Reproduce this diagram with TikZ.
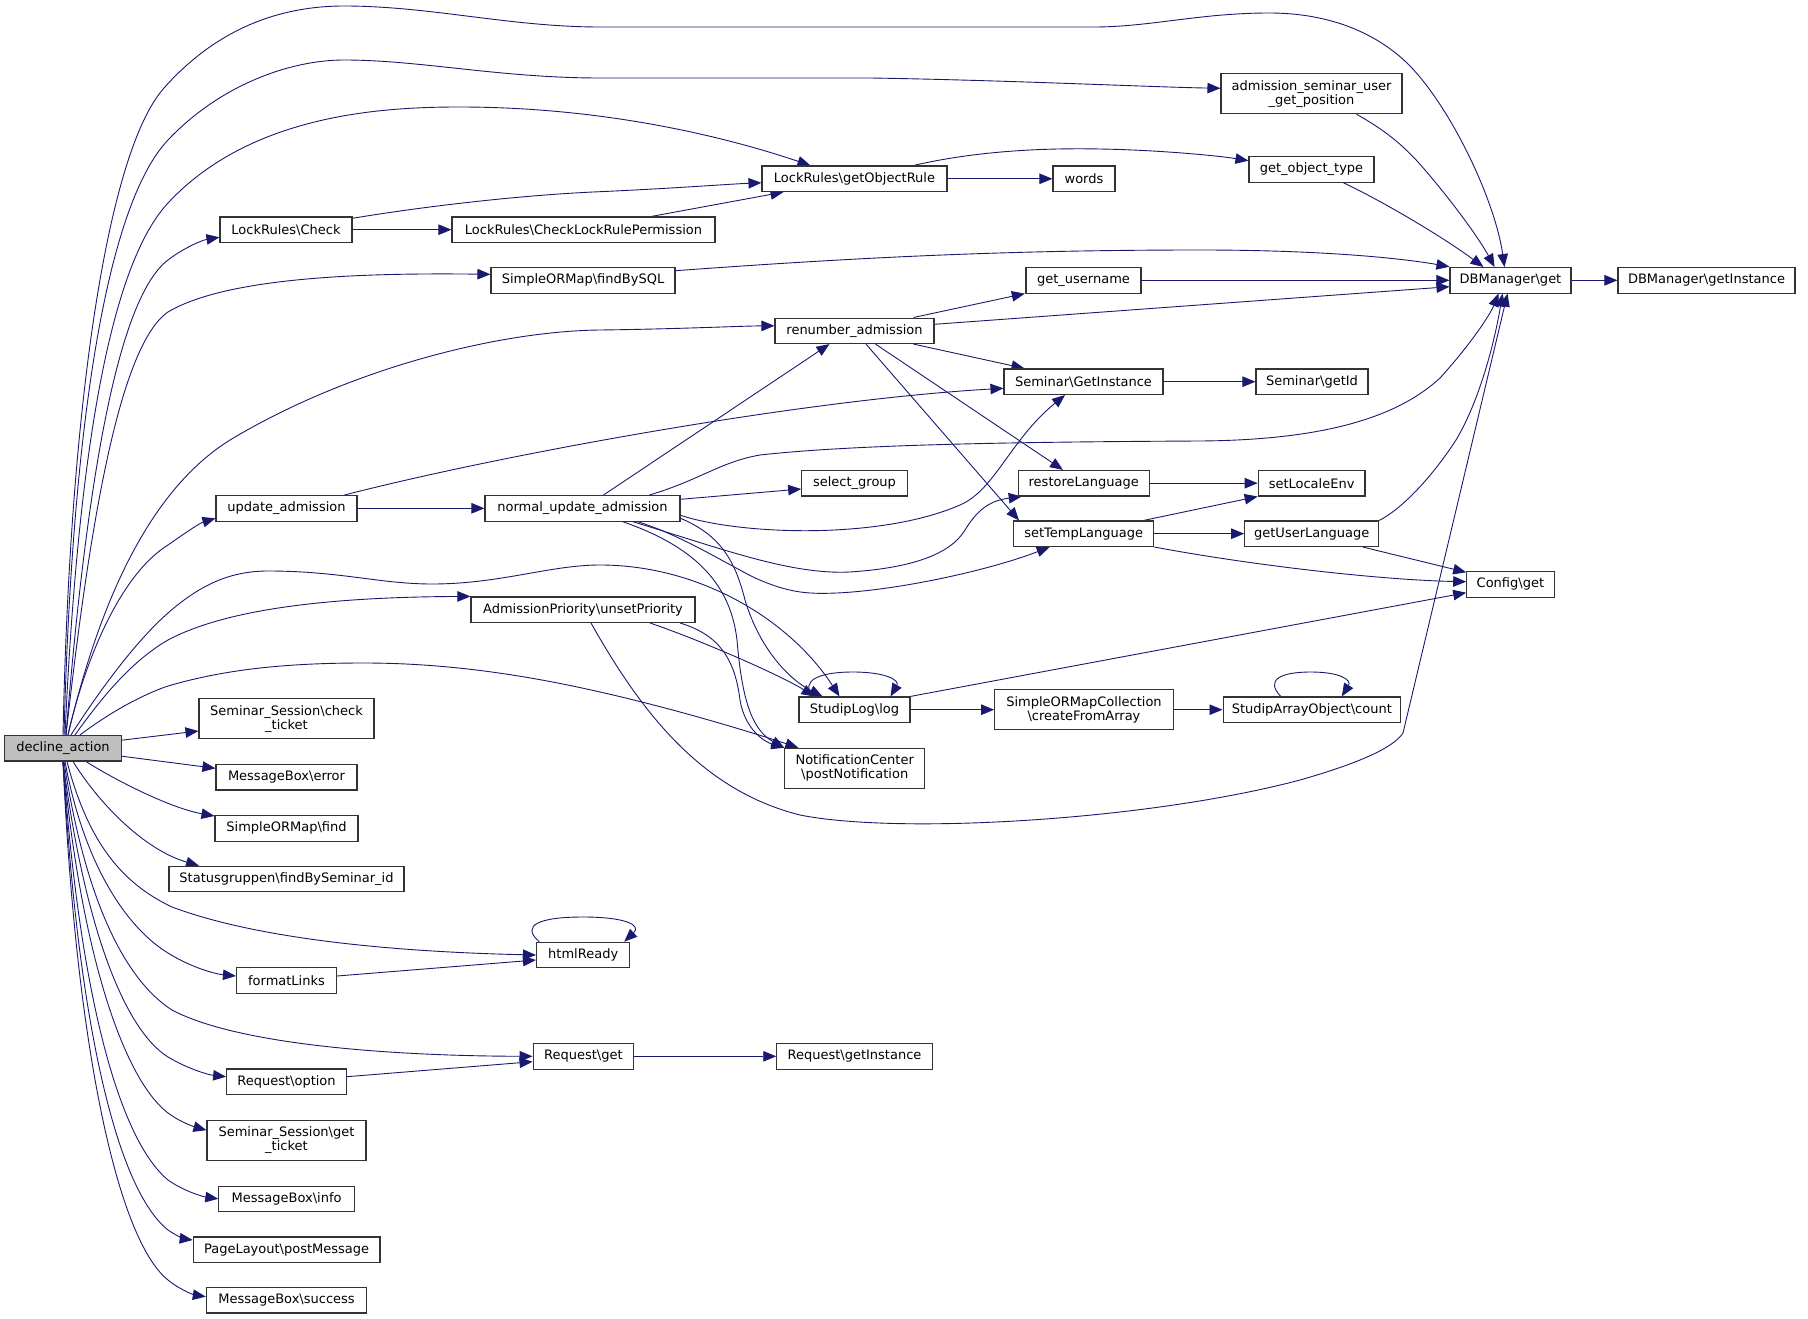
\documentclass[tikz,border=0pt]{standalone}
\usepackage{fontspec}
\setmainfont{DejaVu Sans}
\usetikzlibrary{arrows.meta}
\definecolor{edgec}{HTML}{191970}
\definecolor{boxline}{HTML}{333333}
\definecolor{rootfill}{HTML}{BFBFBF}
\pgfdeclarelayer{background}
\pgfsetlayers{background,main}
\tikzset{
 fbox/.style={draw=boxline, line width=1.1pt, fill=white, minimum height=25.5pt, inner sep=0pt, font=\fontsize{13}{14}\selectfont, align=center},
 fbox2/.style={fbox, minimum height=40pt},
 link/.style={draw=edgec, line width=0.9pt, -{Triangle[length=13pt,width=10.5pt]}},
}
\begin{document}
\begin{tikzpicture}[x=1pt,y=-1pt]
\useasboundingbox (0,0) rectangle (1808,1319);
% nodes
\node[fbox, fill=rootfill, minimum width=116.4pt] (D) at (63,748.2) {decline\_action};
\node[fbox, minimum width=132pt] (LRC) at (286,229.7) {LockRules\textbackslash Check};
\node[fbox, minimum width=263pt] (CLRP) at (583.5,229.7) {LockRules\textbackslash CheckLockRulePermission};
\node[fbox, minimum width=184pt] (FBS) at (583,280.3) {SimpleORMap\textbackslash findBySQL};
\node[fbox, minimum width=185pt] (GOR) at (854.5,178.8) {LockRules\textbackslash getObjectRule};
\node[fbox, minimum width=62pt] (W) at (1084,178.8) {words};
\node[fbox, minimum width=115pt] (GU) at (1083.5,280.3) {get\_username};
\node[fbox, minimum width=159pt] (RA) at (854.5,330.8) {renumber\_admission};
\node[fbox, minimum width=159pt] (SGI) at (1083.5,381.7) {Seminar\textbackslash GetInstance};
\node[fbox2, minimum width=181pt] (ASUGP) at (1311.5,93.7) {admission\_seminar\_user\\\_get\_position};
\node[fbox, minimum width=125pt] (GOT) at (1311.5,169.5) {get\_object\_type};
\node[fbox, minimum width=121pt] (DBget) at (1510.5,280.3) {DBManager\textbackslash get};
\node[fbox, minimum width=177pt] (DBGI) at (1706.5,280.3) {DBManager\textbackslash getInstance};
\node[fbox, minimum width=112pt] (SGID) at (1312,381.7) {Seminar\textbackslash getId};
\node[fbox, minimum width=141pt] (UA) at (286.5,508.3) {update\_admission};
\node[fbox, minimum width=195pt] (N) at (582.5,508.3) {normal\_update\_admission};
\node[fbox, minimum width=224pt] (AP) at (583,609.7) {AdmissionPriority\textbackslash unsetPriority};
\node[fbox2, minimum width=175pt] (SSC) at (286.5,718.8) {Seminar\_Session\textbackslash check\\\_ticket};
\node[fbox, minimum width=141pt] (MBE) at (286.5,777.2) {MessageBox\textbackslash error};
\node[fbox, minimum width=143pt] (SOF) at (286.5,828.3) {SimpleORMap\textbackslash find};
\node[fbox, minimum width=235pt] (SFB) at (286.5,879) {Statusgruppen\textbackslash findBySeminar\_id};
\node[fbox, minimum width=105.6pt] (SG) at (854.5,483.2) {select\_group};
\node[fbox, minimum width=131pt] (RL) at (1083.7,483.2) {restoreLanguage};
\node[fbox, minimum width=140pt] (STL) at (1083.7,533.7) {setTempLanguage};
\node[fbox, minimum width=111pt] (SL) at (854.5,709.7) {StudipLog\textbackslash log};
\node[fbox2, minimum width=178.7pt] (SOC) at (1084,709.7) {SimpleORMapCollection\\\textbackslash createFromArray};
\node[fbox2, minimum width=139.7pt] (NC) at (854.7,768.3) {NotificationCenter\\\textbackslash postNotification};
\node[fbox, minimum width=106.8pt] (SLE) at (1311.6,483.2) {setLocaleEnv};
\node[fbox, minimum width=134pt] (GUL) at (1311.7,533.7) {getUserLanguage};
\node[fbox, minimum width=87.3pt] (CG) at (1510.4,584.3) {Config\textbackslash get};
\node[fbox, minimum width=177.5pt] (SAO) at (1311.8,709.7) {StudipArrayObject\textbackslash count};
\node[fbox, minimum width=93.4pt] (HR) at (583.2,955) {htmlReady};
\node[fbox, minimum width=100pt] (FL) at (286.5,980.3) {formatLinks};
\node[fbox, minimum width=100.6pt] (RG) at (583.4,1056.3) {Request\textbackslash get};
\node[fbox, minimum width=155.4pt] (RGI) at (854.5,1056.3) {Request\textbackslash getInstance};
\node[fbox, minimum width=119.7pt] (RO) at (286.5,1081.7) {Request\textbackslash option};
\node[fbox2, minimum width=159pt] (SSG) at (286.5,1140.2) {Seminar\_Session\textbackslash get\\\_ticket};
\node[fbox, minimum width=135.5pt] (MBI) at (286.6,1198.8) {MessageBox\textbackslash info};
\node[fbox, minimum width=186.7pt] (PL) at (286.6,1249.7) {PageLayout\textbackslash postMessage};
\node[fbox, minimum width=160.3pt] (MBS) at (286.5,1300.2) {MessageBox\textbackslash success};

\begin{pgfonlayer}{background}
% from decline_action, upward
\draw[link] (D.north) .. controls (70,400) and (108,151) .. (164,88) .. controls (220,25) and (285,6) .. (344,6) .. controls (430,6) and (510,27) .. (600,27) -- (1094,27) .. controls (1150,27) and (1200,13) .. (1269,13) .. controls (1340,13) and (1383,40) .. (1407,63) .. controls (1450,105) and (1495,200) .. ([xshift=-6pt]DBget.north);
\draw[link] ([xshift=1pt]D.north) .. controls (72,430) and (105.6,206) .. (168,140) .. controls (220,85) and (290,60) .. (344,60) .. controls (420,60) and (500,78) .. (600,78) -- (870,78) .. controls (1000,80) and (1150,87) .. ([yshift=5.4pt]ASUGP.west);
\draw[link] ([xshift=2pt]D.north) .. controls (78,450) and (110.6,264.6) .. (168,203) .. controls (250,115) and (380,107) .. (459,107) .. controls (600,107) and (720,135) .. ([xshift=-44pt]GOR.north);
\draw[link] ([xshift=3pt]D.north) .. controls (85,500) and (115,300) .. (168,260) .. controls (185,247) and (203,240) .. ([yshift=-7.6pt]LRC.west);
\draw[link] ([xshift=3pt]D.north) .. controls (90,520) and (120,345) .. (168,312) .. controls (230,275) and (380,273) .. ([yshift=6pt]FBS.west);
\draw[link] ([xshift=5pt]D.north) .. controls (100,600) and (150,490) .. (230,440) .. controls (350,368) and (500,331) .. (600,330) .. controls (680,329) and (740,326) .. ([yshift=5pt]RA.west);
\draw[link] ([xshift=5pt]D.north) .. controls (85,660) and (120,575) .. (168,545) .. controls (185,533) and (200,523) .. ([yshift=-10pt]UA.west);
\draw[link] ([xshift=8pt]D.north) .. controls (100,690) and (136,641) .. (168,613) .. controls (200,585) and (230,571) .. (268,571) .. controls (340,571) and (380,584) .. (432,584) .. controls (500,584) and (550,565) .. (600,565) .. controls (700,565) and (790,620) .. ([xshift=-15pt]SL.north);
\draw[link] ([xshift=12pt]D.north) .. controls (100,700) and (130,662) .. (168,640) .. controls (230,607) and (340,597) .. (AP.north west);
\draw[link] ([xshift=17pt]D.north) .. controls (100,720) and (130,700) .. (165,687) .. controls (230,667) and (300,663) .. (364,663) .. controls (450,663) and (530,676) .. (600,692) .. controls (680,710) and (760,735) .. ([xshift=14pt]NC.north west);
% from decline_action, right side
\draw[link] ([yshift=8pt]D.east) -- ([yshift=-12.2pt]SSC.west);
\draw[link] ([yshift=-8pt]D.east) -- ([yshift=8.9pt]MBE.west);
% from decline_action, downward
\draw[link] ([xshift=23pt]D.south) .. controls (115,780) and (170,808) .. ([yshift=-1pt]SOF.north west);
\draw[link] ([xshift=10pt]D.south) .. controls (100,805) and (145,850) .. ([xshift=-87.5pt]SFB.north);
\draw[link] ([xshift=4pt]D.south) .. controls (90,850) and (128,886) .. (172,907) .. controls (260,940) and (400,952) .. (HR.west);
\draw[link] ([xshift=2pt]D.south) .. controls (85,870) and (130,930) .. (168,953) .. controls (190,967) and (215,974) .. ([yshift=4.3pt]FL.west);
\draw[link] ([xshift=1pt]D.south) .. controls (85,900) and (125,980) .. (172,1010) .. controls (240,1046) and (400,1056) .. (RG.west);
\draw[link] (D.south) .. controls (85,930) and (125,1030) .. (168,1057) .. controls (190,1070) and (210,1075) .. ([yshift=5pt]RO.west);
\draw[link] (D.south) .. controls (82,960) and (125,1080) .. (168,1113) .. controls (180,1122) and (195,1127) .. ([yshift=10pt]SSG.west);
\draw[link] (D.south) .. controls (80,1000) and (120,1140) .. (168,1180) .. controls (185,1192) and (205,1197) .. (MBI.west);
\draw[link] (D.south) .. controls (78,1030) and (118,1190) .. (168,1230) .. controls (175,1235) and (185,1239) .. ([yshift=9.7pt]PL.west);
\draw[link] (D.south) .. controls (76,1050) and (118,1240) .. (168,1280) .. controls (180,1290) and (195,1295) .. ([yshift=3.5pt]MBS.west);
% LockRules
\draw[link] ([yshift=11.4pt]LRC.east) .. controls (420,207) and (520,195) .. (600,191.7) .. controls (680,188) and (730,184) .. ([yshift=-4pt]GOR.west);
\draw[link] (LRC) -- (CLRP);
\draw[link] ([xshift=68pt]CLRP.north) -- ([xshift=-71pt]GOR.south);
\draw[link] (GOR) -- (W);
\draw[link] ([xshift=59pt]GOR.north) .. controls (980,150) and (1050,148) .. (1100,149) .. controls (1160,150) and (1220,156) .. ([yshift=8.8pt]GOT.west);
% into DBManager\get
\draw[link] ([xshift=45pt]ASUGP.south) .. controls (1390,133) and (1408,150) .. (1425,170) .. controls (1455,205) and (1480,240) .. ([xshift=-16pt]DBget.north);
\draw[link] ([xshift=32pt]GOT.south) .. controls (1380,200) and (1440,235) .. ([xshift=-27pt]DBget.north);
\draw[link] ([yshift=9.6pt]FBS.east) .. controls (850,258) and (1000,250) .. (1200,250) .. controls (1320,250) and (1400,258) .. ([yshift=13.6pt]DBget.west);
\draw[link] (GU) -- (DBget);
\draw[link] ([yshift=6.5pt]RA.east) -- ([yshift=-6.4pt]DBget.west);
\draw[link] (DBget) -- (DBGI);
% renumber_admission
\draw[link] ([xshift=59pt]RA.north) -- ([xshift=-58.7pt]GU.south);
\draw[link] ([xshift=59pt]RA.south) -- ([xshift=-59pt]SGI.north);
\draw[link] ([xshift=21pt]RA.south) -- ([xshift=-20.7pt]RL.north);
\draw[link] ([xshift=11.5pt]RA.south) -- ([xshift=-64.7pt]STL.north);
\draw[link] (SGI) -- (SGID);
% update_admission
\draw[link] ([xshift=58pt]UA.north) .. controls (500,455) and (800,400) .. ([yshift=-6.6pt]SGI.west);
\draw[link] (UA) -- (N);
% normal_update_admission
\draw[link] ([xshift=21pt]N.north) -- ([xshift=-25pt]RA.south);
\draw[link] ([xshift=67pt]N.north) .. controls (700,480) and (720,462) .. (760,455) .. controls (850,445) and (1000,442) .. (1200,441) .. controls (1330,440) and (1400,415) .. (1440,378) .. controls (1470,345) and (1490,315) .. ([xshift=-12pt]DBget.south);
\draw[link] ([yshift=9pt]N.east) -- ([yshift=-5.8pt]SG.west);
\draw[link] ([yshift=-7pt]N.east) .. controls (740,535) and (880,540) .. (960,505) .. controls (995,490) and (1010,440) .. ([xshift=-18.5pt]SGI.south);
\draw[link] ([xshift=50pt]N.south) .. controls (720,548) and (790,575) .. (850,572) .. controls (910,568) and (950,555) .. (965,530) .. controls (980,505) and (995,500) .. ([xshift=-62pt]RL.south);
\draw[link] ([xshift=55pt]N.south) .. controls (680,535) and (720,560) .. (753,577) .. controls (790,594) and (810,594) .. (837,593) .. controls (900,590) and (990,570) .. ([xshift=-34pt]STL.south);
\draw[link] ([yshift=-10pt]N.east) .. controls (720,535) and (735,560) .. (745,600) .. controls (760,650) and (790,680) .. ([xshift=-32pt]SL.north);
\draw[link] ([xshift=40pt]N.south) .. controls (690,545) and (730,580) .. (737,640) .. controls (742,700) and (752,730) .. (NC.north west);
% AdmissionPriority
\draw[link] ([xshift=67pt]AP.south) .. controls (700,640) and (780,675) .. ([xshift=-40pt]SL.north);
\draw[link] ([xshift=97pt]AP.south) .. controls (720,635) and (735,660) .. (740,700) .. controls (745,730) and (765,742) .. (NC.north west);
\draw[link] ([xshift=8pt]AP.south) .. controls (640,710) and (700,790) .. (800,815) .. controls (900,835) and (1150,820) .. (1300,780) .. controls (1370,760) and (1395,745) .. (1403,733) -- ([xshift=-3pt]DBget.south);
% StudipLog
\draw[link] ([xshift=-42pt]SL.north) .. controls (800,680) and (820,672) .. (853,672) .. controls (885,672) and (900,680) .. ([xshift=36pt]SL.north);
\draw[link] (SL) -- (SOC);
\draw[link] (SL.north east) -- ([yshift=-8.4pt]CG.west);
\draw[link] (SOC) -- (SAO);
\draw[link] ([xshift=-31pt]SAO.north) .. controls (1265,680) and (1280,672) .. (1311,672) .. controls (1340,672) and (1352,680) .. ([xshift=30pt]SAO.north);
% languages
\draw[link] (RL) -- (SLE);
\draw[link] ([xshift=60pt]STL.north) -- (SLE.south west);
\draw[link] (STL) -- (GUL);
\draw[link] (STL.south east) .. controls (1250,565) and (1380,580) .. ([yshift=2.6pt]CG.west);
\draw[link] (GUL.north east) .. controls (1400,510) and (1430,480) .. (1456,440) .. controls (1480,400) and (1495,340) .. ([xshift=-8pt]DBget.south);
\draw[link] ([xshift=51pt]GUL.south) -- ([yshift=12pt]CG.west);
% htmlReady, Request
\draw[link] ([xshift=-44pt]HR.north) .. controls (520,925) and (540,917) .. (583,917) .. controls (625,917) and (642,925) .. ([xshift=41pt]HR.north);
\draw[link] ([yshift=4.3pt]FL.east) -- ([yshift=-5pt]HR.west);
\draw[link] (RG) -- (RGI);
\draw[link] ([yshift=5pt]RO.east) -- ([yshift=-5.4pt]RG.west);
\end{pgfonlayer}
\end{tikzpicture}
\end{document}
